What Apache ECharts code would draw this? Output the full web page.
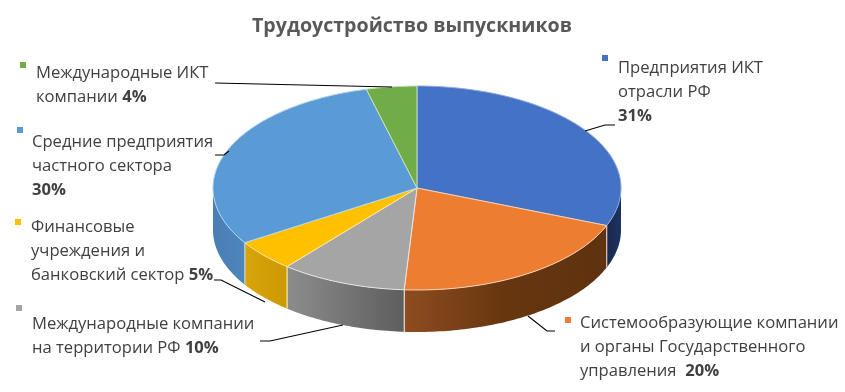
<!DOCTYPE html>
<html><head><meta charset="utf-8">
<style>html,body{margin:0;padding:0;background:#fff}#c{width:845px;height:392px}</style>
<script src="https://cdn.jsdelivr.net/npm/echarts@6/dist/echarts.min.js"></script>
</head><body><div id="c"></div>
<script>
const titleText = 'Трудоустройство выпускников';
const categories = ['Предприятия ИКТ отрасли РФ','Системообразующие компании и органы Государственного управления','Международные компании на территории РФ','Финансовые учреждения и банковский сектор','Средние предприятия частного сектора','Международные ИКТ компании'];
const values = [31, 20, 10, 5, 30, 4];
const labelLines = [
  ['Предприятия ИКТ','отрасли РФ',''],
  ['Системообразующие компании','и органы Государственного','управления  '],
  ['Международные компании','на территории РФ '],
  ['Финансовые','учреждения и','банковский сектор '],
  ['Средние предприятия','частного сектора',''],
  ['Международные ИКТ','компании ']
];
const topColors = ['#4472c4','#ed7d31','#a5a5a5','#ffc000','#5b9bd5','#70ad47'];
const edgeColors = ['#8fa9dc','#f9d3b8','#e6e6e6','#ffe699','#b5d3ee','#c9e0b8'];
const sideColors = [['#16294f','#1c3461'],['#8f4c20','#66360f','#5f3210'],['#8c8c8c','#5e5e5e'],['#d9a40c','#cc9900'],['#4a7fb5','#4d85bd'],['#70ad47','#70ad47']];
const labelPos = [[618,68],[580,323],[32,324],[31,227],[32,142],[36,73]];
const markerPos = [[602,55],[565,317],[16,305],[15,219],[17,127],[20,62]];
const leaders = [
  [[615,125],[605,125],[585,131]],
  [[555,331],[547,331],[528,316]],
  [[260,341],[270,341],[343,325]],
  [[214,280],[221,280],[265,302]],
  [[215,155],[224,155],[229,151]],
  [[215,83],[392,87]]
];
const CX = 417, CY = 188, RX = 204, RY = 102, DEPTH = 42;
const total = values.reduce((a,b)=>a+b,0);
const pt = (deg, dy) => { const r = deg*Math.PI/180; return [CX+RX*Math.sin(r), CY-RY*Math.cos(r)+(dy||0)]; };
const arc = (a0, a1, dy) => { const n = Math.max(2,Math.ceil(Math.abs(a1-a0))); const o=[]; for(let i=0;i<=n;i++) o.push(pt(a0+(a1-a0)*i/n,dy)); return o; };
const F = 'Open Sans', FS = 16.6;
function renderItem(params, api){
  const i = params.dataIndex;
  let start = 0; for(let k=0;k<i;k++) start += values[k];
  const a0 = start/total*360, a1 = (start+api.value(0))/total*360;
  const kids = [];
  const s0 = Math.max(a0,90), s1 = Math.min(a1,270);
  if (s1 > s0) {
    const pts = arc(s0,s1,0).concat(arc(s1,s0,DEPTH));
    const c = sideColors[i];
    kids.push({type:'polygon',shape:{points:pts},style:{
      fill:new echarts.graphic.LinearGradient(0,0,1,0,c.map((col,k)=>({offset:k/(c.length-1),color:col}))),
      stroke:null}});
    [s0,s1].forEach(a=>{ if(a>90&&a<270){ kids.push({type:'line',shape:{x1:pt(a)[0],y1:pt(a)[1],x2:pt(a)[0],y2:pt(a)[1]+DEPTH},style:{stroke:edgeColors[i],lineWidth:1}}); } });
  }
  kids.push({type:'polygon',shape:{points:[[CX,CY]].concat(arc(a0,a1,0))},style:{fill:topColors[i],stroke:edgeColors[i],lineWidth:1}});
  kids.push({type:'polyline',shape:{points:leaders[i]},style:{fill:null,stroke:'#000',lineWidth:1.1}});
  kids.push({type:'rect',shape:{x:markerPos[i][0],y:markerPos[i][1],width:6,height:6},style:{fill:topColors[i]}});
  const lines = labelLines[i];
  const pct = api.value(0)+'%';
  const [lx,ly] = labelPos[i];
  lines.forEach((ln,j)=>{
    const isLast = j===lines.length-1;
    const txt = ln.replace(/ /g,'\u00a0');
    const rich = isLast ? (txt?`{n|${txt}}{b|${pct}}`:`{b|${pct}}`) : `{n|${txt}}`;
    kids.push({type:'text',x:lx,y:ly+j*24,style:{text:rich,verticalAlign:'middle',align:'left',
      rich:{n:{fontFamily:F,fontSize:FS,fill:'#404040'},b:{fontFamily:F,fontSize:FS,fontWeight:'bold',fill:'#404040'}}}});
  });
  return {type:'group',children:kids};
}
const chart = echarts.init(document.getElementById('c'),null,{renderer:'canvas'});
chart.setOption({
  animation:false,
  title:{text:titleText,left:407,top:11,textAlign:'center',textStyle:{fontFamily:F,fontWeight:'bold',fontSize:19.6,color:'#595959'}},
  series:[{type:'custom',coordinateSystem:'none',renderItem,
    data:values.map((v,i)=>({name:categories[i],value:[v]}))}]
});
</script></body></html>
